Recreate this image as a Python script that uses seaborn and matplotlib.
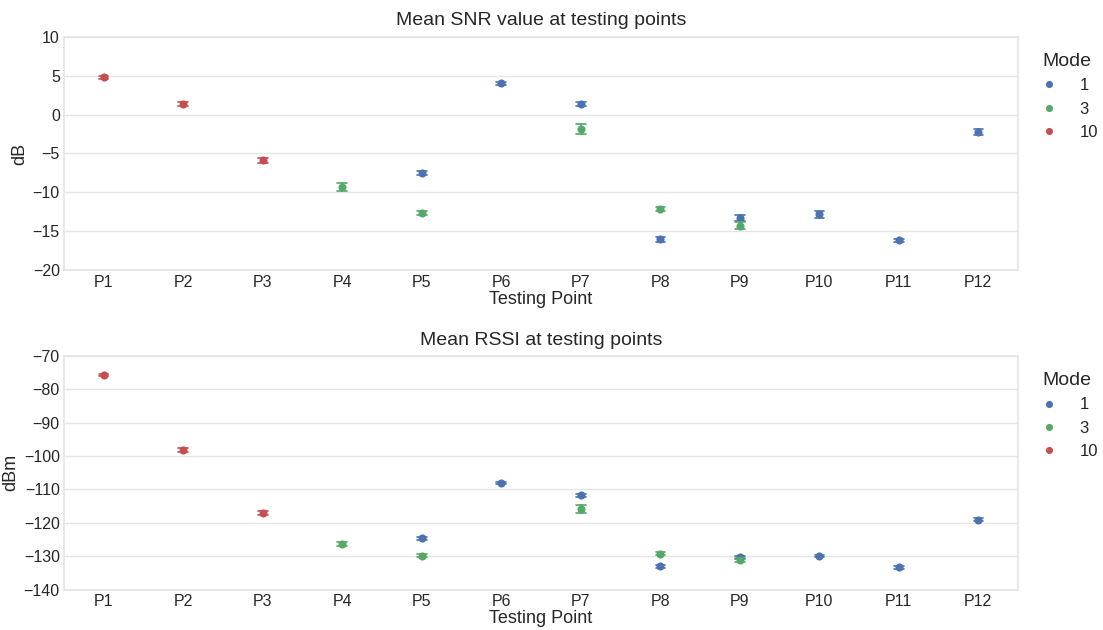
import numpy as np
import pandas as pd
import matplotlib
matplotlib.use("Agg")
import matplotlib.pyplot as plt
import seaborn as sns

points = ["P1", "P2", "P3", "P4", "P5", "P6", "P7", "P8", "P9", "P10", "P11", "P12"]
modes = [1, 3, 10]

# (point, mode, mean, half-width of error bar)
snr_point = ["P1", "P2", "P3", "P4", "P5", "P5", "P6", "P7", "P7", "P8", "P8", "P9", "P9", "P10", "P11", "P12"]
snr_mode  = [10, 10, 10, 3, 1, 3, 1, 1, 3, 3, 1, 1, 3, 1, 1, 1]
snr_mean  = [4.8, 1.3, -5.9, -9.3, -7.5, -12.6, 4.0, 1.3, -1.9, -12.1, -16.0, -13.3, -14.3, -12.8, -16.15, -2.25]
snr_err   = [0.2, 0.25, 0.3, 0.55, 0.2, 0.25, 0.2, 0.25, 0.65, 0.25, 0.3, 0.4, 0.45, 0.45, 0.2, 0.4]

rssi_point = ["P1", "P2", "P3", "P4", "P5", "P5", "P6", "P7", "P7", "P8", "P8", "P9", "P9", "P10", "P11", "P12"]
rssi_mode  = [10, 10, 10, 3, 1, 3, 1, 1, 3, 3, 1, 1, 3, 1, 1, 1]
rssi_mean  = [-75.7, -98.2, -117.0, -126.3, -124.6, -129.8, -108.1, -111.8, -115.9, -129.2, -133.0, -130.3, -131.2, -129.9, -133.3, -119.0]
rssi_err   = [0.4, 0.5, 0.5, 0.6, 0.4, 0.4, 0.4, 0.5, 1.2, 0.4, 0.4, 0.5, 0.6, 0.4, 0.4, 0.5]

palette = {1: "#4C72B0", 3: "#55A868", 10: "#C44E52"}


def make_frame(pts, mds, means, errs):
    rows = []
    for p, m, v, e in zip(pts, mds, means, errs):
        for val in (v - e, v, v + e):
            rows.append({"Testing Point": p, "Mode": m, "value": val})
    return pd.DataFrame(rows)


sns.set_theme(style="whitegrid")
plt.rcParams["font.family"] = ["Liberation Sans", "DejaVu Sans"]
plt.rcParams["axes.edgecolor"] = "#E5E5E5"
plt.rcParams["grid.color"] = "#E5E5E5"

fig, axes = plt.subplots(2, 1, figsize=(11.03, 6.3), dpi=100)
fig.subplots_adjust(left=0.058, right=0.923, top=0.942, bottom=0.064, hspace=0.365)

specs = [
    (make_frame(snr_point, snr_mode, snr_mean, snr_err), "Mean SNR value at testing points", "dB", (-20, 10), np.arange(-20, 11, 5)),
    (make_frame(rssi_point, rssi_mode, rssi_mean, rssi_err), "Mean RSSI at testing points", "dBm", (-140, -70), np.arange(-140, -69, 10)),
]

for ax, (df, title, ylabel, ylim, yticks) in zip(axes, specs):
    sns.pointplot(data=df, x="Testing Point", y="value", hue="Mode", order=points,
                  hue_order=modes, palette=palette, estimator="mean",
                  errorbar=("pi", 100), linestyle="none", markers="o",
                  markersize=3.8, capsize=0.12, dodge=False,
                  err_kws={"linewidth": 1.2}, ax=ax)
    ax.set_ylim(*ylim)
    ax.set_yticks(yticks)
    ax.set_xlim(-0.5, 11.5)
    ax.set_title(title, fontsize=14, pad=8, color="#262626")
    ax.set_ylabel(ylabel, fontsize=13, labelpad=3.5, color="#262626")
    ax.set_xlabel("Testing Point", fontsize=13, labelpad=1, color="#262626")
    ax.tick_params(axis="both", labelsize=11.5, length=0, pad=3, colors="#262626")
    ax.grid(axis="x", visible=False)
    for s in ax.spines.values():
        s.set_color("#E5E5E5")
    leg = ax.legend(title="Mode", loc="upper left", bbox_to_anchor=(1.025, 0.93),
                    borderaxespad=0, borderpad=0, frameon=False, fontsize=12,
                    title_fontsize=14, handlelength=0.8, handletextpad=1.45,
                    labelspacing=0.5, markerscale=0.8)
    leg._legend_box.align = "left"

fig.savefig("out.png", dpi=100)
